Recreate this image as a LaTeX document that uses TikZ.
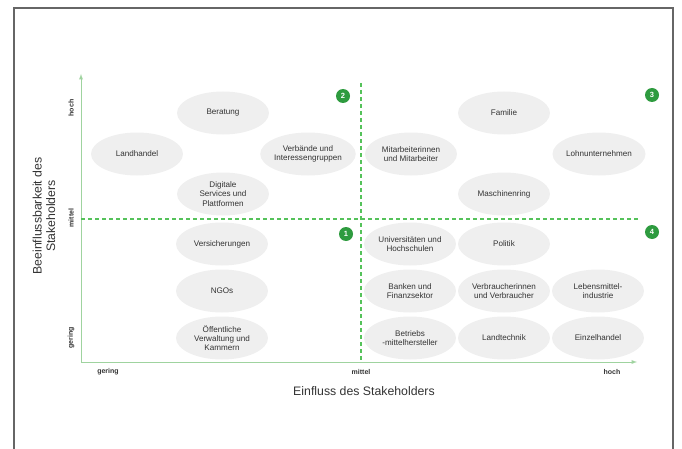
\documentclass[tikz,border=0pt]{standalone}
\usepackage{fontspec}
\setmainfont{Liberation Sans}
\usepackage{tikz}
\usetikzlibrary{shapes.geometric, positioning, arrows}

\definecolor{axisgreen}{HTML}{9FD39F}
\definecolor{dashgreen}{HTML}{55C25A}
\definecolor{badgegreen}{HTML}{2E9B3F}
\definecolor{ellfill}{HTML}{EFEFEF}
\definecolor{ink}{HTML}{333333}

\tikzset{
  stake/.style={ellipse, fill=ellfill, minimum width=92pt, minimum height=43pt,
    inner sep=0pt, align=center, text=ink, font=\fontsize{8.1}{9.3}\selectfont},
  badge/.style={circle, fill=badgegreen, text=white, inner sep=0pt, minimum size=14pt,
    font=\fontsize{7.5}{8}\selectfont\bfseries},
  axisline/.style={draw=axisgreen, line width=0.9pt},
  quadline/.style={draw=dashgreen, line width=1.05pt, dash pattern=on 4pt off 3pt},
  ticklabel/.style={font=\fontsize{7}{8}\selectfont\bfseries, text=ink},
  axistitle/.style={font=\fontsize{12.3}{13.5}\selectfont, text=ink, align=center}
}

\begin{document}
\begin{tikzpicture}[x=1pt, y=1pt, node distance=47pt]
			\useasboundingbox (0,0) rectangle (682,448);
			\draw[draw=gray!80!black, line width=1.4pt] (14,-2) -- (14,440) -- (673,440) -- (673,-2);

			% axes
			\coordinate (orig) at (81,86);
			\coordinate (ytop) at (81,374);
			\coordinate (xend) at (637,86);
			\coordinate (vtop) at (361,365);
			\coordinate (vbot) at (361,86);
			\coordinate (hleft) at (81,229);
			\coordinate (hright) at (638,229);
			\draw[axisline, -latex] (orig) -- (ytop);
			\draw[axisline, -latex] (orig) -- (xend);
			\draw[quadline] (vtop) -- (vbot);
			\draw[quadline] (hleft) -- (hright);

			% quadrant numbers
			\node[badge] (b1) at (346,214) {1};
			\node[badge] (b2) at (343,352) {2};
			\node[badge] (b3) at (652,353) {3};
			\node[badge] (b4) at (652,216) {4};

			% axis labels
			\node[ticklabel] (xlow) at (108,76) {gering};
			\node[ticklabel] (xmid) at (361,76) {mittel};
			\node[ticklabel] (xhigh) at (612,76) {hoch};
			\node[axistitle] (xtitle) at (364,57) {Einfluss des Stakeholders};
			\node[ticklabel, rotate=90] (ylow) at (71,110) {gering};
			\node[ticklabel, rotate=90] (ymid) at (71,230) {mittel};
			\node[ticklabel, rotate=90] (yhigh) at (71,340) {hoch};
			\node[axistitle, rotate=90] (ytitle) at (44,232) {Beeinflussbarkeit des\\Stakeholders};

			% stakeholders left
			\node[stake] (beratung) at (223,335) {Beratung};
			\node[stake] (landhandel) at (137,294) {Landhandel};
			\node[stake] (verbaende) at (308,294) {Verbände und\\Interessengruppen};
			\node[stake] (digital) at (223,254) {Digitale\\Services und\\Plattformen};
			\node[stake] (vers) at (222,204) {Versicherungen};
			\node[stake, below of=vers] (ngo) {NGOs};
			\node[stake, below of=ngo] (oeff) {Öffentliche\\Verwaltung und\\Kammern};

			% stakeholders right
			\node[stake] (mitarb) at (411,294) {Mitarbeiterinnen\\und Mitarbeiter};
			\node[stake] (familie) at (504,335) {Familie};
			\node[stake] (lohn) at (599,294) {Lohnunternehmen};
			\node[stake] (masch) at (504,254) {Maschinenring};
			\node[stake] (uni) at (410,204) {Universitäten und\\Hochschulen};
			\node[stake, right of=uni, xshift=47pt] (politik) {Politik};
			\node[stake, below of=uni] (banken) {Banken und\\Finanzsektor};
			\node[stake, right of=banken, xshift=47pt] (verbr) {Verbraucherinnen\\und Verbraucher};
			\node[stake, right of=verbr, xshift=47pt] (lebens) {Lebensmittel-\\industrie};
			\node[stake, below of=banken] (betriebs) {Betriebs\\-mittelhersteller};
			\node[stake, right of=betriebs, xshift=47pt] (landtechnik) {Landtechnik};
			\node[stake, right of=landtechnik, xshift=47pt] (einzel) {Einzelhandel};
		\end{tikzpicture}
\end{document}
